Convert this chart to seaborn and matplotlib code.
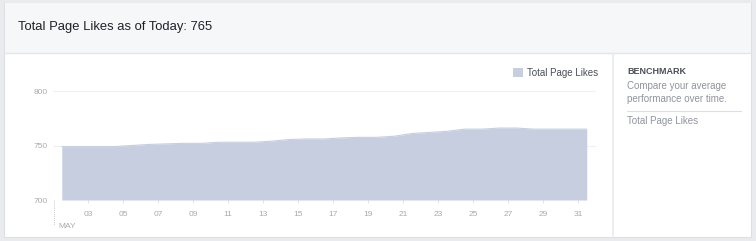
import numpy as np
import pandas as pd
import matplotlib
matplotlib.use("Agg")
import matplotlib.pyplot as plt
import seaborn as sns
from matplotlib.patches import Rectangle
from matplotlib.lines import Line2D

days = list(range(1, 32))
likes = [749, 749, 749, 749, 750, 751, 751.5, 752, 752, 753, 753, 753, 754, 755.5, 756, 756,
         757, 757.5, 757.5, 758.5, 761, 762, 763, 765, 765, 766, 766, 765, 765, 765, 765]
tick_days = list(range(3, 32, 2))
tick_labels = [f"{d:02d}" for d in tick_days]
y_ticks = [700, 750, 800]
title = "Total Page Likes as of Today: 765"
series_name = "Total Page Likes"

df = pd.DataFrame({"pos": [d + 0.5 for d in days], "likes": likes})

sns.set_theme(style="white")
plt.rcParams['font.family'] = ['Liberation Sans', 'DejaVu Sans']

W, H = 756, 241
fig = plt.figure(figsize=(W / 100, H / 100), dpi=100)
fig.patch.set_facecolor("#e9ebee")

def px_rect(x0, y0, x1, y1, fc, ec="none", lw=0, z=-2):
    fig.patches.append(Rectangle((x0 / W, 1 - y1 / H), (x1 - x0) / W, (y1 - y0) / H,
                                 transform=fig.transFigure, facecolor=fc, edgecolor=ec,
                                 linewidth=lw, zorder=z))

def px_line(x0, y0, x1, y1, color, lw=1, ls="-", z=3):
    fig.lines.append(Line2D([x0 / W, x1 / W], [1 - y0 / H, 1 - y1 / H],
                            transform=fig.transFigure, color=color, linewidth=lw,
                            linestyle=ls, zorder=z))

# card
px_rect(4, 3, 751, 237, "#ffffff", ec="#dddfe2", lw=0.8, z=-3)
px_rect(4.5, 3.5, 750.5, 52.5, "#f6f7f9", z=-2)
px_line(4, 52.5, 751, 52.5, "#e5e5e5", lw=1)
px_line(612.5, 53, 612.5, 236, "#e9eaed", lw=1.2)

fig.text(18 / W, 1 - 27 / H, title, fontsize=9.4, color="#1d2129", va="center", ha="left")

# right panel
fig.text(627 / W, 1 - 72 / H, "BENCHMARK", fontsize=6.5, fontweight="bold", color="#4b4f56", va="center")
fig.text(627 / W, 1 - 86 / H, "Compare your average", fontsize=7, color="#90949c", va="center")
fig.text(627 / W, 1 - 99 / H, "performance over time.", fontsize=7, color="#90949c", va="center")
px_line(627, 111, 741, 111, "#dddfe2", lw=0.8)
fig.text(627 / W, 1 - 121 / H, series_name, fontsize=7, color="#90949c", va="center")

# chart axes
left, right = 53, 595.5
top, bottom = 91, 200
ax = fig.add_axes([left / W, 1 - bottom / H, (right - left) / W, (bottom - top) / H])
ax.set_zorder(1)
ax.patch.set_alpha(0)
fill_color = "#c6cee0"
ax.fill_between(df["pos"], 700, df["likes"], color=fill_color, linewidth=0, zorder=2)
sns.lineplot(data=df, x="pos", y="likes", ax=ax, color=fill_color, linewidth=0.8, zorder=3)
ax.set_xlim(1, 32)
ax.set_ylim(700, 800)
ax.set_yticks(y_ticks)
ax.set_yticklabels([str(v) for v in y_ticks])
ax.set_xticks(tick_days)
ax.set_xticklabels(tick_labels)
for v in y_ticks:
    ax.axhline(v, color="#f0f0f0", linewidth=0.8, zorder=1)
ax.set_xlabel("")
ax.set_ylabel("")
for s in ax.spines.values():
    s.set_visible(False)
ax.tick_params(axis="both", labelsize=6, labelcolor="#aaaaaa")
ax.tick_params(axis="y", length=0, pad=4)
ax.tick_params(axis="x", length=2, width=0.6, color="#dddddd", pad=6, bottom=True)

# month marker
px_line(53.5, 200, 53.5, 225, "#cccccc", lw=0.7, ls=(0, (1, 1)))
fig.text(58 / W, 1 - 227 / H, "MAY", fontsize=6, color="#aaaaaa", va="center")

# legend
handle = Rectangle((0, 0), 1, 1, facecolor=fill_color, edgecolor="none")
fig.legend([handle], [series_name], loc="center right",
           bbox_to_anchor=(598 / W, 1 - 72.5 / H), frameon=False, fontsize=7,
           handlelength=1.0, handleheight=1.0, handletextpad=0.4,
           labelcolor="#4b4f56", borderaxespad=0, borderpad=0)

fig.savefig("out.png", dpi=100, facecolor=fig.get_facecolor())
